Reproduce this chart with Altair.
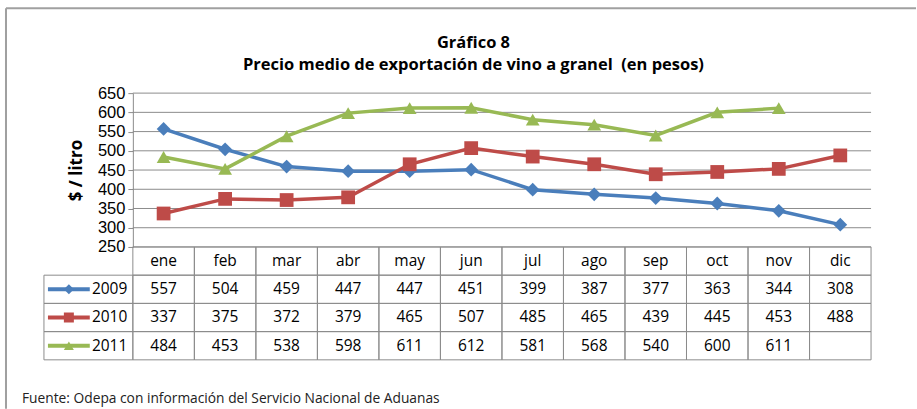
import altair as alt
import pandas as pd

months = ["ene", "feb", "mar", "abr", "may", "jun", "jul", "ago", "sep", "oct", "nov", "dic"]
series = ["2009", "2010", "2011"]
v2009 = [557, 504, 459, 447, 447, 451, 399, 387, 377, 363, 344, 308]
v2010 = [337, 375, 372, 379, 465, 507, 485, 465, 439, 445, 453, 488]
v2011 = [484, 453, 538, 598, 611, 612, 581, 568, 540, 600, 611, None]
y_ticks = [250, 300, 350, 400, 450, 500, 550, 600, 650]
colors = ["#4A7EBB", "#BE4B48", "#98B954"]
shapes = ["diamond", "square", "triangle-up"]
title_lines = ["Gráfico 8", "Precio medio de exportación de vino a granel\u00a0 (en pesos)"]
y_title = "$ / litro"
footnote = "Fuente: Odepa con información del Servicio Nacional de Aduanas"

FONT = "Open Sans"
GRID = "#8C8C8C"

rows = []
for s, vals in zip(series, [v2009, v2010, v2011]):
    for i, (m, v) in enumerate(zip(months, vals)):
        rows.append({"series": s, "month": m, "idx": i, "value": v})
df = pd.DataFrame(rows)

hdr = pd.DataFrame({"month": months, "idx": list(range(len(months))), "row": "m"})
cells = pd.concat([hdr, df.assign(row=df["series"])[["month", "idx", "row"]]], ignore_index=True)
legend_df = pd.DataFrame({"series": series, "row": series})

xscale = alt.Scale(domain=[-1.445, 12], nice=False, zero=False)
yscale = alt.Scale(domain=[250, 650], nice=False, zero=False)
cscale = alt.Scale(domain=series, range=colors)
sscale = alt.Scale(domain=series, range=shapes)
rscale = alt.Scale(domain=["m"] + series, paddingInner=0, paddingOuter=0)

yaxis = alt.Axis(values=y_ticks, offset=-89, grid=False, domainColor=GRID, tickColor=GRID,
                 tickSize=5, labelFontSize=16.5, labelFont="Liberation Sans", labelColor="black",
                 labelPadding=3, labelOverlap=False, labelBound=False, labelFlush=False,
                 title=y_title, titleFont=FONT, titleFontSize=17, titleFontWeight="bold",
                 titleColor="black", titlePadding=12)

W = 828

# ---------- top: line chart ----------
grid = alt.Chart(pd.DataFrame({"tick": y_ticks})).mark_rule(color=GRID, strokeWidth=1).encode(
    x=alt.datum(0, type="quantitative", scale=xscale, axis=None),
    x2=alt.datum(12),
    y=alt.Y("tick:Q", scale=yscale, axis=yaxis),
)
base = alt.Chart(df).transform_calculate(xc="datum.idx + 0.5")
lines = base.mark_line(strokeWidth=3.5).encode(
    x=alt.X("xc:Q", scale=xscale, axis=None),
    y=alt.Y("value:Q", scale=yscale, axis=yaxis),
    color=alt.Color("series:N", scale=cscale, legend=None),
    detail="series:N",
)
points = base.mark_point(filled=True, size=190, opacity=1).encode(
    x=alt.X("xc:Q", scale=xscale, axis=None),
    y=alt.Y("value:Q", scale=yscale, axis=yaxis),
    color=alt.Color("series:N", scale=cscale, legend=None),
    shape=alt.Shape("series:N", scale=sscale, legend=None),
)
top = alt.layer(grid, lines, points).properties(
    width=W, height=154,
    title=alt.Title(title_lines, font=FONT, fontSize=16.5, fontWeight="bold", color="black",
                    anchor="middle", frame="group", dx=16, offset=12, lineHeight=22),
)

# ---------- bottom: data table ----------
cell_rects = alt.Chart(cells).transform_calculate(x1="datum.idx + 1").mark_rect(
    fill=None, stroke=GRID, strokeWidth=1).encode(
    x=alt.X("idx:Q", scale=xscale, axis=None),
    x2="x1:Q",
    y=alt.Y("row:N", scale=rscale, axis=None),
)
legend_rects = alt.Chart(legend_df).mark_rect(fill=None, stroke=GRID, strokeWidth=1).encode(
    x=alt.datum(-1.445, type="quantitative", scale=xscale, axis=None),
    x2=alt.datum(0),
    y=alt.Y("row:N", scale=rscale, axis=None),
)
hdr_text = alt.Chart(hdr).transform_calculate(xc="datum.idx + 0.5").mark_text(
    font=FONT, fontSize=15.5, color="black", baseline="middle").encode(
    x=alt.X("xc:Q", scale=xscale, axis=None),
    y=alt.Y("row:N", scale=rscale, axis=None),
    text="month:N",
)
val_text = alt.Chart(df).transform_filter("isValid(datum.value)").transform_calculate(
    xc="datum.idx + 0.5").mark_text(font=FONT, fontSize=15.5, color="black", baseline="middle").encode(
    x=alt.X("xc:Q", scale=xscale, axis=None),
    y=alt.Y("series:N", scale=rscale, axis=None),
    text="value:Q",
)
leg_line = alt.Chart(legend_df).mark_rule(strokeWidth=4).encode(
    x=alt.datum(-1.38, type="quantitative", scale=xscale, axis=None),
    x2=alt.datum(-0.70),
    y=alt.Y("row:N", scale=rscale, axis=None),
    color=alt.Color("series:N", scale=cscale, legend=None),
)
leg_pt = alt.Chart(legend_df).mark_point(filled=True, size=100, opacity=1).encode(
    x=alt.datum(-1.04, type="quantitative", scale=xscale, axis=None),
    y=alt.Y("row:N", scale=rscale, axis=None),
    color=alt.Color("series:N", scale=cscale, legend=None),
    shape=alt.Shape("series:N", scale=sscale, legend=None),
)
leg_text = alt.Chart(legend_df).mark_text(font=FONT, fontSize=15.5, color="black", align="right",
                                           baseline="middle").encode(
    x=alt.datum(-0.09, type="quantitative", scale=xscale, axis=None),
    y=alt.Y("row:N", scale=rscale, axis=None),
    text="series:N",
)
note = alt.Chart(pd.DataFrame({"t": [footnote]})).mark_text(
    font=FONT, fontSize=13.8, color="#222222", align="left", baseline="alphabetic").encode(
    x=alt.value(-22), y=alt.value(156), text="t:N")
frame_top = alt.Chart(pd.DataFrame({"a": [0]})).mark_rule(color="#A0A0A0", strokeWidth=2).encode(
    x=alt.value(-38), x2=alt.value(873), y=alt.value(-239))
frame_left = alt.Chart(pd.DataFrame({"a": [0]})).mark_rule(color="#A0A0A0", strokeWidth=2).encode(
    x=alt.value(-38), y=alt.value(-239), y2=alt.value(162))

bottom = alt.layer(cell_rects, legend_rects, hdr_text, val_text, leg_line, leg_pt, leg_text,
                   note, frame_top, frame_left).properties(width=W, height=113)

chart = alt.vconcat(top, bottom, spacing=0, bounds="flush").properties(
    padding={"left": 5, "top": 7, "right": 0, "bottom": 0},
    background="white",
).configure_view(stroke=None)

chart.save("out.html", embed_options={"renderer": "svg", "actions": False})
